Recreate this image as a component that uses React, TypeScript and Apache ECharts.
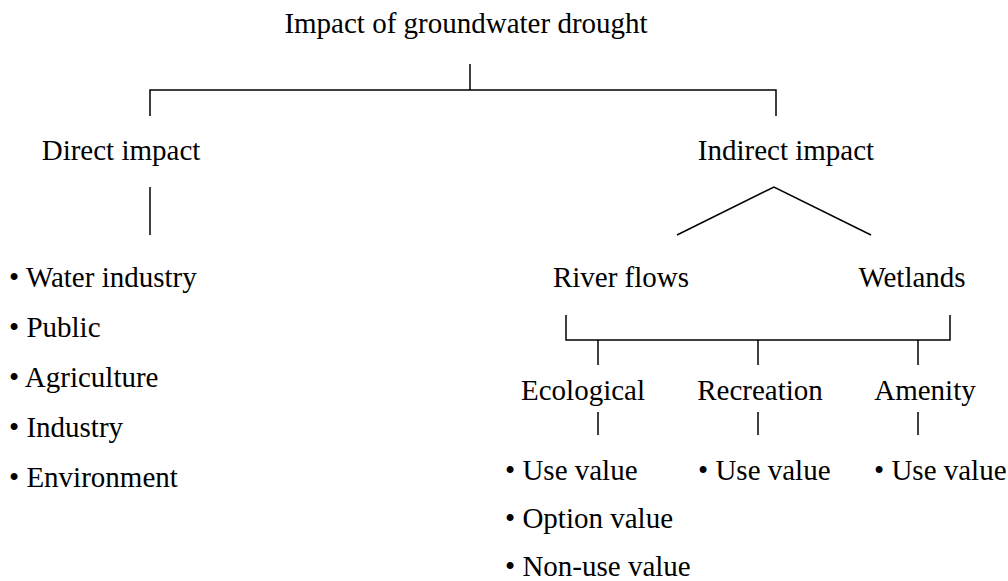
import React, { useEffect, useRef } from "react";
import * as echarts from "echarts";

const rootLabel = "Impact of groundwater drought";
const branchLabels = ["Direct impact", "Indirect impact"];
const directItems = ["Water industry", "Public", "Agriculture", "Industry", "Environment"];
const indirectSources = ["River flows", "Wetlands"];
const valueTypes = ["Ecological", "Recreation", "Amenity"];
const valueItems = [["Use value", "Option value", "Non-use value"], ["Use value"], ["Use value"]];

const FONT = "29px 'Liberation Serif', 'Times New Roman', serif";
const INK = "#000";
const LW = 1.5;

function txt(x: number, baseline: number, text: string, align: string = "center") {
  return {
    type: "text",
    x,
    y: baseline - 10,
    style: { text, font: FONT, fill: INK, align, verticalAlign: "middle" },
  };
}
function ln(x1: number, y1: number, x2: number, y2: number) {
  return { type: "line", shape: { x1, y1, x2, y2 }, style: { stroke: INK, lineWidth: LW } };
}
function pl(points: number[][]) {
  return { type: "polyline", shape: { points }, style: { stroke: INK, lineWidth: LW, fill: "none" } };
}

export default function App() {
  const ref = useRef<HTMLDivElement>(null);
  useEffect(() => {
    const chart = echarts.init(ref.current!, null, { renderer: "svg" });
    const els: any[] = [];
    // root
    els.push(txt(466, 33, rootLabel));
    els.push(ln(470, 64, 470, 90));
    els.push(pl([[150, 116], [150, 90], [776, 90], [776, 116]]));
    // branches
    const branchX = [121, 786];
    branchLabels.forEach((b, i) => els.push(txt(branchX[i], 160, b)));
    els.push(ln(150, 187, 150, 235));
    // direct list
    directItems.forEach((d, i) => els.push(txt(9, 287 + i * 50, "\u2022 " + d, "left")));
    // indirect triangle
    els.push(pl([[677, 235], [774, 187], [871, 235]]));
    const srcX = [621, 912];
    indirectSources.forEach((s, i) => els.push(txt(srcX[i], 287, s)));
    // bracket
    els.push(pl([[566, 315], [566, 340], [950, 340], [950, 315]]));
    const tickX = [598, 758, 918];
    const typeX = [583, 760, 925];
    const listX = [505, 698, 874];
    valueTypes.forEach((v, i) => {
      els.push(ln(tickX[i], 340, tickX[i], 365));
      els.push(txt(typeX[i], 400, v));
      els.push(ln(tickX[i], 412, tickX[i], 435));
      valueItems[i].forEach((it, j) => els.push(txt(listX[i], 480 + j * 48, "\u2022 " + it, "left")));
    });
    chart.setOption({ animation: false, graphic: { elements: els } });
    return () => chart.dispose();
  }, []);
  return (
    <div
      ref={ref}
      style={{ position: "fixed", left: 0, top: 0, width: 1008, height: 581, background: "#fff" }}
    />
  );
}
